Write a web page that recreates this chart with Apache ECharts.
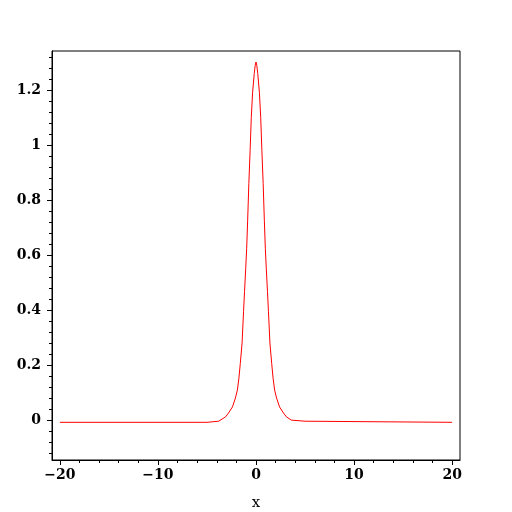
<!DOCTYPE html>
<html>
<head>
<meta charset="utf-8">
<script src="https://cdn.jsdelivr.net/npm/echarts@6/dist/echarts.min.js"></script>
<style>html,body{margin:0;padding:0;background:#fff;}#c{width:512px;height:512px;}</style>
</head>
<body>
<div id="c"></div>
<script>
// Curve samples
var xValues = [-20, -5, -5, -3.8, -3.6, -3.1, -2.8, -2.4, -2.1, -1.9, -1.75, -1.6, -1.42, -1.27, -1.17, -1.05, -0.95, -0.85, -0.73, -0.6, -0.48, -0.35, -0.18, -0.08, 0,
               0.08, 0.18, 0.35, 0.48, 0.6, 0.73, 0.85, 0.95, 1.05, 1.17, 1.27, 1.42, 1.6, 1.75, 1.9, 2.1, 2.4, 2.8, 3.1, 3.6, 3.8, 5, 5, 20];
var yValues = [-0.008, -0.008, -0.004, -0.004, 0.0, 0.012, 0.026, 0.048, 0.08, 0.109, 0.15, 0.206, 0.28, 0.394, 0.467, 0.55, 0.625, 0.727, 0.86, 0.98, 1.1, 1.19, 1.26, 1.29, 1.302,
               1.29, 1.26, 1.19, 1.1, 0.98, 0.86, 0.727, 0.625, 0.55, 0.467, 0.394, 0.28, 0.206, 0.15, 0.109, 0.08, 0.048, 0.026, 0.012, 0.0, -0.004, -0.004, -0.008, -0.008];
var xMajorTicks = [-20, -10, 0, 10, 20];
var xMinorTicks = [-20, -18, -16, -14, -12, -10, -8, -6, -4, -2, 0, 2, 4, 6, 8, 10, 12, 14, 16, 18, 20];
var yMajorTicks = [0, 0.2, 0.4, 0.6, 0.8, 1, 1.2];
var yMinorTicks = [-0.12, -0.08, -0.04, 0, 0.04, 0.08, 0.12, 0.16, 0.2, 0.24, 0.28, 0.32, 0.36, 0.4, 0.44, 0.48, 0.52, 0.56, 0.6, 0.64, 0.68, 0.72, 0.76, 0.8, 0.84, 0.88, 0.92, 0.96, 1, 1.04, 1.08, 1.12, 1.16, 1.2, 1.24, 1.28, 1.32];
var xLabel = 'x';

var xMin = -20.8, xMax = 20.8, yMin = -0.145, yMax = 1.342;
var data = xValues.map(function (x, i) { return [x, yValues[i]]; });
var font = {fontFamily: 'DejaVu Serif', fontWeight: 'bold', fontSize: 14, color: '#000'};
function fmt(v) {
  var r = Math.round(v * 10) / 10;
  return r < 0 ? '\u2212' + Math.abs(r) : String(r);
}

var chart = echarts.init(document.getElementById('c'), null, {renderer: 'canvas'});
chart.setOption({
  animation: false,
  backgroundColor: '#fff',
  grid: {left: 52, top: 51, width: 408, height: 409, containLabel: false, outerBoundsMode: 'none',
         show: true, borderColor: '#000', borderWidth: 1, backgroundColor: 'transparent'},
  xAxis: [{
    type: 'value', min: xMin, max: xMax, position: 'bottom',
    axisLine: {show: true, onZero: false, lineStyle: {color: '#000', width: 1}},
    axisTick: {show: true, customValues: xMajorTicks, length: 5, lineStyle: {color: '#000'}},
    axisLabel: Object.assign({show: true, customValues: xMajorTicks, formatter: fmt, margin: 8}, font),
    splitLine: {show: false},
    name: xLabel, nameLocation: 'middle', nameGap: 36,
    nameTextStyle: {fontFamily: 'DejaVu Serif', fontSize: 15, color: '#000'}
  }, {
    type: 'value', min: xMin, max: xMax, position: 'bottom',
    axisLine: {show: false, onZero: false},
    axisTick: {show: true, customValues: xMinorTicks, length: 3, lineStyle: {color: '#000'}},
    axisLabel: {show: false},
    splitLine: {show: false}
  }],
  yAxis: [{
    type: 'value', min: yMin, max: yMax, position: 'left',
    axisLine: {show: true, onZero: false, lineStyle: {color: '#000', width: 1}},
    axisTick: {show: true, customValues: yMajorTicks, length: 5, lineStyle: {color: '#000'}},
    axisLabel: Object.assign({show: true, customValues: yMajorTicks, formatter: fmt, margin: 11}, font),
    splitLine: {show: false}
  }, {
    type: 'value', min: yMin, max: yMax, position: 'left',
    axisLine: {show: false, onZero: false},
    axisTick: {show: true, customValues: yMinorTicks, length: 3, lineStyle: {color: '#000'}},
    axisLabel: {show: false},
    splitLine: {show: false}
  }],
  series: [{
    type: 'line', xAxisIndex: 0, yAxisIndex: 0,
    data: data, showSymbol: false, smooth: false,
    lineStyle: {color: '#ff0000', width: 1},
    itemStyle: {color: '#ff0000'}
  }]
});
</script>
</body>
</html>
